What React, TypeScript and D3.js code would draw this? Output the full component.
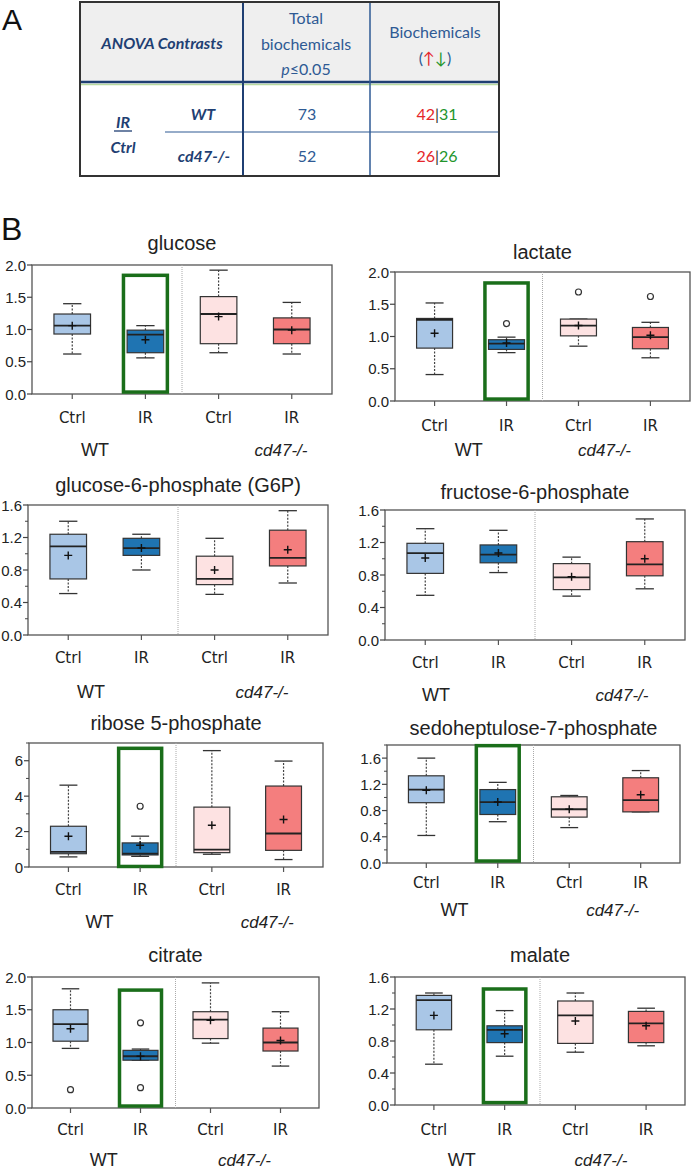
import * as d3 from 'd3'

type BoxStat = { min: number; q1: number; median: number; q3: number; max: number; mean: number; outliers?: number[] }

// table A
const contrastRows = ['WT', 'cd47-/-']
const totalSig = [73, 52]
const upCounts = [42, 26]
const downCounts = [31, 26]

// boxplots B
const groups = ['WT Ctrl', 'WT IR', 'KO Ctrl', 'KO IR']
const categoryLabels = ['Ctrl', 'IR', 'Ctrl', 'IR']
const genotypeLabels = ['WT', 'cd47-/-']
const boxColors = ['#a9c6e6', '#1f74b2', '#fde2e2', '#f47e7e']

const glucose: BoxStat[] = [
  { min: 0.62, q1: 0.93, median: 1.06, q3: 1.24, max: 1.4, mean: 1.06 },
  { min: 0.56, q1: 0.64, median: 0.92, q3: 0.99, max: 1.06, mean: 0.84 },
  { min: 0.64, q1: 0.78, median: 1.24, q3: 1.51, max: 1.92, mean: 1.2 },
  { min: 0.62, q1: 0.78, median: 1.0, q3: 1.18, max: 1.42, mean: 0.99 },
]
const lactate: BoxStat[] = [
  { min: 0.41, q1: 0.82, median: 1.26, q3: 1.28, max: 1.52, mean: 1.05 },
  { min: 0.75, q1: 0.8, median: 0.89, q3: 0.95, max: 0.99, mean: 0.9, outliers: [1.2] },
  { min: 0.85, q1: 1.01, median: 1.17, q3: 1.27, max: 1.27, mean: 1.17, outliers: [1.69] },
  { min: 0.67, q1: 0.81, median: 0.99, q3: 1.14, max: 1.22, mean: 1.02, outliers: [1.62] },
]
const g6p: BoxStat[] = [
  { min: 0.51, q1: 0.69, median: 1.09, q3: 1.24, max: 1.4, mean: 0.98 },
  { min: 0.8, q1: 0.98, median: 1.07, q3: 1.19, max: 1.24, mean: 1.07 },
  { min: 0.5, q1: 0.62, median: 0.69, q3: 0.97, max: 1.19, mean: 0.8 },
  { min: 0.64, q1: 0.85, median: 0.95, q3: 1.29, max: 1.53, mean: 1.05 },
]
const f6p: BoxStat[] = [
  { min: 0.55, q1: 0.82, median: 1.07, q3: 1.19, max: 1.37, mean: 1.01 },
  { min: 0.83, q1: 0.95, median: 1.05, q3: 1.17, max: 1.35, mean: 1.07 },
  { min: 0.54, q1: 0.62, median: 0.77, q3: 0.94, max: 1.02, mean: 0.78 },
  { min: 0.63, q1: 0.79, median: 0.93, q3: 1.21, max: 1.49, mean: 1.0 },
]
const r5p: BoxStat[] = [
  { min: 0.57, q1: 0.75, median: 0.85, q3: 2.3, max: 4.62, mean: 1.74 },
  { min: 0.6, q1: 0.68, median: 0.75, q3: 1.36, max: 1.74, mean: 1.23, outliers: [3.43] },
  { min: 0.72, q1: 0.81, median: 0.98, q3: 3.38, max: 6.57, mean: 2.36 },
  { min: 0.42, q1: 0.94, median: 1.89, q3: 4.57, max: 5.98, mean: 2.68 },
]
const s7p: BoxStat[] = [
  { min: 0.42, q1: 0.92, median: 1.12, q3: 1.33, max: 1.6, mean: 1.11 },
  { min: 0.63, q1: 0.74, median: 0.93, q3: 1.12, max: 1.23, mean: 0.93 },
  { min: 0.54, q1: 0.7, median: 0.82, q3: 1.01, max: 1.03, mean: 0.82 },
  { min: 0.78, q1: 0.78, median: 0.96, q3: 1.3, max: 1.41, mean: 1.04 },
]
const citrate: BoxStat[] = [
  { min: 0.91, q1: 1.02, median: 1.28, q3: 1.5, max: 1.82, mean: 1.21, outliers: [0.28] },
  { min: 0.73, q1: 0.73, median: 0.79, q3: 0.88, max: 0.9, mean: 0.79, outliers: [1.3, 0.31] },
  { min: 0.99, q1: 1.06, median: 1.35, q3: 1.47, max: 1.91, mean: 1.34 },
  { min: 0.64, q1: 0.87, median: 1.0, q3: 1.22, max: 1.47, mean: 1.03 },
]
const malate: BoxStat[] = [
  { min: 0.51, q1: 0.94, median: 1.31, q3: 1.37, max: 1.4, mean: 1.12 },
  { min: 0.61, q1: 0.78, median: 0.94, q3: 0.99, max: 1.18, mean: 0.89 },
  { min: 0.66, q1: 0.77, median: 1.12, q3: 1.3, max: 1.4, mean: 1.05 },
  { min: 0.74, q1: 0.78, median: 1.02, q3: 1.17, max: 1.21, mean: 0.99 },
]

type Panel = {
  title: string
  data: BoxStat[]
  yMax: number
  step: number
  minor: boolean
  fmt: string
  highlight: number | null
  frame: [number, number, number, number]
  titleY: number
  labelY: number
  groupY: number
  groupX: [number, number]
}

const panels: Panel[] = [
  { title: 'glucose', data: glucose, yMax: 2, step: 0.5, minor: false, fmt: '.1f', highlight: 1.84, frame: [32, 265, 332, 394], titleY: 243, labelY: 418, groupY: 450, groupX: [0.21, 0.83] },
  { title: 'lactate', data: lactate, yMax: 2, step: 0.5, minor: false, fmt: '.1f', highlight: 1.83, frame: [395, 272, 690, 401], titleY: 252, labelY: 426, groupY: 450, groupX: [0.25, 0.71] },
  { title: 'glucose-6-phosphate (G6P)', data: g6p, yMax: 1.6, step: 0.4, minor: true, fmt: '.1f', highlight: null, frame: [28, 505, 328, 635], titleY: 485, labelY: 658, groupY: 692, groupX: [0.21, 0.78] },
  { title: 'fructose-6-phosphate', data: f6p, yMax: 1.6, step: 0.4, minor: true, fmt: '.1f', highlight: null, frame: [385, 510, 685, 640], titleY: 492, labelY: 663, groupY: 695, groupX: [0.17, 0.79] },
  { title: 'ribose 5-phosphate', data: r5p, yMax: 7, step: 2, minor: true, fmt: 'd', highlight: 6.7, frame: [29, 743, 323, 867], titleY: 723, labelY: 890, groupY: 922, groupX: [0.24, 0.81] },
  { title: 'sedoheptulose-7-phosphate', data: s7p, yMax: 1.8, step: 0.4, minor: true, fmt: '.1f', highlight: 1.79, frame: [387, 745, 680, 863], titleY: 728, labelY: 883, groupY: 910, groupX: [0.23, 0.77] },
  { title: 'citrate', data: citrate, yMax: 2, step: 0.5, minor: false, fmt: '.1f', highlight: 1.8, frame: [32, 977, 319, 1108], titleY: 955, labelY: 1130, groupY: 1160, groupX: [0.25, 0.74] },
  { title: 'malate', data: malate, yMax: 1.6, step: 0.4, minor: true, fmt: '.1f', highlight: 1.45, frame: [395, 977, 685, 1105], titleY: 955, labelY: 1130, groupY: 1160, groupX: [0.23, 0.71] },
]

const chartFont = '"Liberation Sans", Arial, sans-serif'
const labelFont = '"DejaVu Sans", Verdana, sans-serif'
const tableFont = 'Lato, "Liberation Sans", sans-serif'

function BoxPanel({ p }: { p: Panel }) {
  const [x0, y0, x1, y1] = p.frame
  const y = d3.scaleLinear().domain([0, p.yMax]).range([y1, y0])
  const x = d3.scalePoint<string>().domain(groups).range([x0, x1]).padding(0.55)
  const bw = x.step() * 0.5
  const fmt = d3.format(p.fmt)
  const major = d3.range(0, p.yMax + 1e-9, p.step)
  const minor = p.minor ? d3.range(p.step / 2, p.yMax + 1e-9, p.step) : []
  const mid = (x0 + x1) / 2

  return (
    <g>
      <text x={mid} y={p.titleY} textAnchor="middle" dominantBaseline="central" fontFamily={chartFont} fontSize={20} fill="#222">
        {p.title}
      </text>
      <rect x={x0} y={y0} width={x1 - x0} height={y1 - y0} fill="#fff" stroke="#555" strokeWidth={1.3} />
      <line x1={mid} x2={mid} y1={y0} y2={y1} stroke="#aaa" strokeWidth={1} strokeDasharray="1,1" />
      {p.highlight !== null && (
        <rect
          x={(x(groups[1]) ?? 0) - bw * 0.6}
          y={y(p.highlight)}
          width={bw * 1.2}
          height={y(0.03) - y(p.highlight)}
          fill="none"
          stroke="#1a6e1a"
          strokeWidth={3.5}
        />
      )}
      {p.data.map((d, i) => {
        const cx = x(groups[i]) ?? 0
        return (
          <g key={i}>
            <line x1={cx} x2={cx} y1={y(d.q3)} y2={y(d.max)} stroke="#444" strokeWidth={1.2} strokeDasharray="2,1.5" />
            <line x1={cx} x2={cx} y1={y(d.q1)} y2={y(d.min)} stroke="#444" strokeWidth={1.2} strokeDasharray="2,1.5" />
            <line x1={cx - bw / 4} x2={cx + bw / 4} y1={y(d.max)} y2={y(d.max)} stroke="#333" strokeWidth={1.3} />
            <line x1={cx - bw / 4} x2={cx + bw / 4} y1={y(d.min)} y2={y(d.min)} stroke="#333" strokeWidth={1.3} />
            <rect x={cx - bw / 2} y={y(d.q3)} width={bw} height={Math.max(1, y(d.q1) - y(d.q3))} fill={boxColors[i]} stroke="#333" strokeWidth={1.2} />
            <line x1={cx - bw / 2} x2={cx + bw / 2} y1={y(d.median)} y2={y(d.median)} stroke="#222" strokeWidth={1.8} />
            <path d={`M${cx - 4},${y(d.mean)}H${cx + 4}M${cx},${y(d.mean) - 4}V${y(d.mean) + 4}`} stroke="#111" strokeWidth={1.4} />
            {(d.outliers || []).map((o, j) => (
              <circle key={j} cx={cx} cy={y(o)} r={3} fill="#fff" stroke="#333" strokeWidth={1.2} />
            ))}
            <line x1={cx} x2={cx} y1={y1} y2={y1 + 5} stroke="#555" strokeWidth={1.2} />
            <text x={cx} y={p.labelY} textAnchor="middle" dominantBaseline="central" fontFamily={labelFont} fontSize={15} fill="#222">
              {categoryLabels[i]}
            </text>
          </g>
        )
      })}
      {major.map(t => (
        <g key={'M' + t}>
          <line x1={x0 - 5} x2={x0} y1={y(t)} y2={y(t)} stroke="#444" strokeWidth={1.2} />
          <text x={x0 - 6} y={y(t)} textAnchor="end" dominantBaseline="central" fontFamily={chartFont} fontSize={15} fill="#222">
            {fmt(t)}
          </text>
        </g>
      ))}
      {minor.map(t => (
        <line key={'m' + t} x1={x0 - 3} x2={x0} y1={y(t)} y2={y(t)} stroke="#444" strokeWidth={1} />
      ))}
      <text x={x0 + (x1 - x0) * p.groupX[0]} y={p.groupY} textAnchor="middle" dominantBaseline="central" fontFamily={chartFont} fontSize={18} fill="#222">
        {genotypeLabels[0]}
      </text>
      <text x={x0 + (x1 - x0) * p.groupX[1]} y={p.groupY} textAnchor="middle" dominantBaseline="central" fontFamily={chartFont} fontSize={17} fontStyle="italic" fill="#222">
        {genotypeLabels[1]}
      </text>
    </g>
  )
}

function Table() {
  const navy = '#1f3f73'
  const blue = '#2e5a94'
  const red = '#e5262b'
  const green = '#23952b'
  const rowY = [120, 162]
  return (
    <g fontFamily={tableFont}>
      <text x={2} y={30} fontFamily={chartFont} fontSize={30} fill="#111">A</text>
      <rect x={80} y={2} width={419} height={174} fill="#fff" />
      <rect x={80} y={2} width={419} height={80} fill="#efefef" />
      <line x1={80} x2={499} y1={84.5} y2={84.5} stroke="#b9dba0" strokeWidth={1.5} />
      <line x1={80} x2={499} y1={82} y2={82} stroke={navy} strokeWidth={2.5} />
      <line x1={165} x2={499} y1={132} y2={132} stroke={blue} strokeWidth={1.2} />
      <line x1={243} x2={243} y1={2} y2={176} stroke={navy} strokeWidth={2} />
      <line x1={370} x2={370} y1={2} y2={176} stroke={blue} strokeWidth={1.5} />
      <rect x={80} y={2} width={419} height={174} fill="none" stroke="#333" strokeWidth={2} />

      <text x={162} y={49} textAnchor="middle" fontSize={16} fontWeight="bold" fontStyle="italic" fill={navy}>ANOVA Contrasts</text>
      <text x={306} y={24} textAnchor="middle" fontSize={16} fill={blue}>Total</text>
      <text x={306} y={50} textAnchor="middle" fontSize={16} fill={blue}>biochemicals</text>
      <text x={306} y={75} textAnchor="middle" fontSize={16} fill={blue}>
        <tspan fontStyle="italic">p</tspan>≤0.05
      </text>
      <text x={435} y={38} textAnchor="middle" fontSize={16} fill={blue}>Biochemicals</text>
      <text x={435} y={64} textAnchor="middle" fontSize={16} fill={blue}>
        (<tspan fill={red}>↑</tspan><tspan fill={green}>↓</tspan>)
      </text>

      <text x={123} y={128} textAnchor="middle" fontSize={16} fontWeight="bold" fontStyle="italic" fill={navy}>IR</text>
      <line x1={114} x2={132} y1={131} y2={131} stroke={navy} strokeWidth={1.3} />
      <text x={123} y={153} textAnchor="middle" fontSize={16} fontWeight="bold" fontStyle="italic" fill={navy}>Ctrl</text>

      {contrastRows.map((r, i) => (
        <g key={r}>
          <text x={r === 'WT' ? 203 : 204} y={rowY[i]} textAnchor="middle" fontSize={16} fontWeight="bold" fontStyle="italic" fill={navy}>{r}</text>
          <text x={307} y={rowY[i]} textAnchor="middle" fontSize={16} fill={blue}>{totalSig[i]}</text>
          <text x={437} y={rowY[i]} textAnchor="middle" fontSize={16}>
            <tspan fill={red}>{upCounts[i]}</tspan>
            <tspan fill="#333">|</tspan>
            <tspan fill={green}>{downCounts[i]}</tspan>
          </text>
        </g>
      ))}
    </g>
  )
}

export default function App() {
  return (
    <svg width={693} height={1171} style={{ position: 'absolute', left: 0, top: 0, background: '#fff' }}>
      <rect width={693} height={1171} fill="#fff" />
      <Table />
      <text x={1} y={240} fontFamily={chartFont} fontSize={32} fill="#111">B</text>
      {panels.map(p => (
        <BoxPanel key={p.title} p={p} />
      ))}
    </svg>
  )
}
